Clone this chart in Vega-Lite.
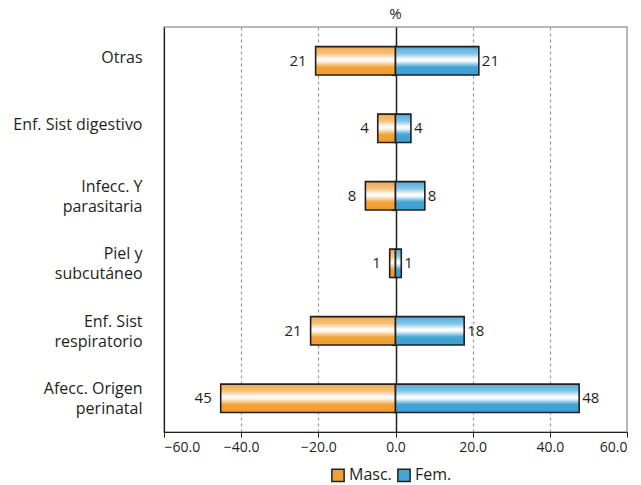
{
  "$schema": "https://vega.github.io/schema/vega-lite/v6.json",
  "width": 463,
  "height": 405,
  "autosize": {"type": "none"},
  "padding": {"left": 164, "top": 27, "right": 14, "bottom": 53},
  "title": {"text": "%", "fontSize": 15, "fontWeight": "normal", "font": "Open Sans", "color": "#231F20", "offset": 5, "anchor": "middle"},
  "data": {
    "values": [
      {"cat": "Otras", "sex": "Masc.", "value": -20.7, "label": "21"},
      {"cat": "Otras", "sex": "Fem.", "value": 21.6, "label": "21"},
      {"cat": "Enf. Sist digestivo", "sex": "Masc.", "value": -4.6, "label": "4"},
      {"cat": "Enf. Sist digestivo", "sex": "Fem.", "value": 4.0, "label": "4"},
      {"cat": "Infecc. Y|parasitaria", "sex": "Masc.", "value": -7.8, "label": "8"},
      {"cat": "Infecc. Y|parasitaria", "sex": "Fem.", "value": 7.6, "label": "8"},
      {"cat": "Piel y|subcutáneo", "sex": "Masc.", "value": -1.5, "label": "1"},
      {"cat": "Piel y|subcutáneo", "sex": "Fem.", "value": 1.5, "label": "1"},
      {"cat": "Enf. Sist|respiratorio", "sex": "Masc.", "value": -22.0, "label": "21"},
      {"cat": "Enf. Sist|respiratorio", "sex": "Fem.", "value": 17.8, "label": "18"},
      {"cat": "Afecc. Origen|perinatal", "sex": "Masc.", "value": -45.3, "label": "45"},
      {"cat": "Afecc. Origen|perinatal", "sex": "Fem.", "value": 47.6, "label": "48"}
    ]
  },
  "encoding": {
    "y": {
      "field": "cat", "type": "nominal", "sort": null, "title": null, "axis": null,
      "scale": {"paddingInner": 0.58, "paddingOuter": 0.29}
    }
  },
  "layer": [
    {
      "transform": [{"filter": "datum.sex == 'Masc.'"}],
      "mark": {"type": "bar", "stroke": "#231F20", "strokeWidth": 1.6,
        "fill": {"gradient": "linear", "x1": 0, "y1": 0, "x2": 0, "y2": 1, "stops": [
          {"offset": 0, "color": "#F2AA4E"}, {"offset": 0.25, "color": "#F6C27E"}, {"offset": 0.45, "color": "#FFFFFF"}, {"offset": 0.52, "color": "#FFF6EA"}, {"offset": 0.72, "color": "#F1A53C"}, {"offset": 1, "color": "#EE9C2C"}]}},
      "encoding": {
        "y": {
          "field": "cat", "type": "nominal", "sort": null, "title": null,
          "axis": {
            "orient": "left", "labelExpr": "split(datum.label, '|')", "labelFontSize": 16, "labelFont": "Open Sans",
            "labelColor": "#231F20", "labelPadding": 22, "ticks": false, "domainColor": "#231F20", "domainWidth": 1.2,
            "labelLineHeight": 20, "labelLimit": 200,
            "labelOffset": {"condition": {"test": "indexof(datum.value, '|') >= 0", "value": -9}, "value": -3}
          }
        },
        "x": {
          "field": "value", "type": "quantitative", "title": null,
          "scale": {"domain": [-60, 60], "nice": false},
          "axis": {
            "values": [-60, -40, -20, 0, 20, 40, 60], "format": ".1f", "labelFontSize": 14, "labelFont": "Open Sans",
            "labelColor": "#231F20", "domainColor": "#231F20", "domainWidth": 1.2, "tickColor": "#231F20", "tickSize": 5,
            "labelPadding": 3, "grid": true, "gridDash": [3, 3], "gridColor": "#9a9a9a", "gridWidth": 1.2,
            "gridOpacity": {"condition": {"test": "datum.value == 0 || abs(datum.value) == 60", "value": 0}, "value": 1}
          }
        }
      }
    },
    {
      "transform": [{"filter": "datum.sex == 'Fem.'"}],
      "mark": {"type": "bar", "stroke": "#231F20", "strokeWidth": 1.6,
        "fill": {"gradient": "linear", "x1": 0, "y1": 0, "x2": 0, "y2": 1, "stops": [
          {"offset": 0, "color": "#4FAAD8"}, {"offset": 0.25, "color": "#86C5E6"}, {"offset": 0.45, "color": "#FFFFFF"}, {"offset": 0.52, "color": "#EEF7FC"}, {"offset": 0.72, "color": "#45A5D5"}, {"offset": 1, "color": "#3A9FD2"}]}},
      "encoding": {
        "x": {"field": "value", "type": "quantitative"}
      }
    },
    {
      "mark": {"type": "text", "fontSize": 15, "font": "Open Sans", "color": "#231F20", "align": "right", "dx": -9},
      "transform": [{"filter": "datum.sex == 'Masc.'"}],
      "encoding": {
        "x": {"field": "value", "type": "quantitative"},
        "text": {"field": "label"}
      }
    },
    {
      "mark": {"type": "text", "fontSize": 15, "font": "Open Sans", "color": "#231F20", "align": "left", "dx": 3},
      "transform": [{"filter": "datum.sex == 'Fem.'"}],
      "encoding": {
        "x": {"field": "value", "type": "quantitative"},
        "text": {"field": "label"}
      }
    },
    {
      "transform": [{"filter": "false"}],
      "mark": {"type": "square"},
      "encoding": {
        "x": {"field": "value", "type": "quantitative"},
        "color": {
          "field": "sex", "type": "nominal",
          "scale": {"domain": ["Masc.", "Fem."], "range": ["#F0A035", "#45A6D6"]},
          "legend": {
            "title": null, "orient": "none", "direction": "horizontal", "legendX": 166, "legendY": 440,
            "symbolType": "square", "symbolSize": 150, "symbolStrokeColor": "#231F20", "symbolStrokeWidth": 1.5,
            "symbolOpacity": 1,
            "labelFontSize": 16, "labelFont": "Open Sans", "labelColor": "#231F20", "columnPadding": 2, "labelOffset": 3
          }
        }
      }
    },
    {
      "mark": {"type": "rule", "opacity": 0},
      "encoding": {
        "y": {
          "field": "cat", "type": "nominal", "sort": null, "title": null,
          "axis": {
            "orient": "left", "offset": -232, "labels": false, "tickBand": "extent", "tickSize": 5,
            "tickColor": "#231F20", "domainColor": "#231F20", "domainWidth": 1.5, "tickWidth": 1.2
          }
        }
      }
    }
  ],
  "resolve": {"axis": {"y": "independent"}},
  "config": {
    "view": {"stroke": "#a0a0a0", "strokeWidth": 1.5},
    "font": "Open Sans"
  }
}
